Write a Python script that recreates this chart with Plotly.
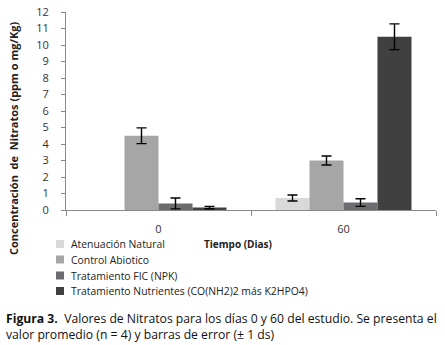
import plotly.graph_objects as go

categories = ["0", "60"]
series_names = ["Atenuación Natural", "Control Abiotico", "Tratamiento FIC (NPK)",
                "Tratamiento Nutrientes (CO(NH2)2 más K2HPO4)"]
values = {
    "Atenuación Natural": [None, 0.73],
    "Control Abiotico": [4.5, 3.0],
    "Tratamiento FIC (NPK)": [0.4, 0.45],
    "Tratamiento Nutrientes (CO(NH2)2 más K2HPO4)": [0.15, 10.5],
}
errors = {
    "Atenuación Natural": [None, 0.18],
    "Control Abiotico": [0.48, 0.27],
    "Tratamiento FIC (NPK)": [0.33, 0.23],
    "Tratamiento Nutrientes (CO(NH2)2 más K2HPO4)": [0.07, 0.78],
}
colors = ["#d9d9d9", "#a6a6a6", "#6b6c70", "#404040"]
y_ticks = list(range(0, 13))

W, H = 445, 345
L, R, T, B = 66, 9, 12, 135
PW, PH = W - L - R, H - T - B


def px(x):
    return (x - L) / PW


def py(y):
    return (H - B - y) / PH


fig = go.Figure()
for name, col in zip(series_names, colors):
    fig.add_trace(go.Bar(
        x=categories, y=values[name], name=name, showlegend=False,
        marker=dict(color=col, line=dict(width=0)),
        error_y=dict(type="data", array=errors[name], visible=True, color="black",
                     thickness=1.4, width=5),
    ))

fig.update_layout(
    width=W, height=H,
    margin=dict(l=L, r=R, t=T, b=B, autoexpand=False),
    paper_bgcolor="white", plot_bgcolor="white",
    font=dict(family="Open Sans", size=11, color="#333333"),
    barmode="group", bargap=0.265, bargroupgap=0,
    showlegend=False,
    xaxis=dict(type="category", showline=True, linecolor="#888888", linewidth=1,
               ticks="outside", tickson="boundaries", ticklen=5, tickcolor="#888888",
               tickfont=dict(size=11, color="#333333"), showgrid=False,
               ticklabelstandoff=9),
    yaxis=dict(range=[0, 12], tickvals=y_ticks, showline=True, linecolor="#888888",
               linewidth=1, ticks="outside", ticklen=4, tickcolor="#888888",
               showgrid=False, zeroline=False, ticklabelstandoff=10,
               tickfont=dict(size=11, color="#333333")),
)

# custom legend (keys + labels)
leg_y = [244, 259.5, 275.5, 291]
for name, col, yy in zip(series_names, colors, leg_y):
    fig.add_shape(type="rect", xref="paper", yref="paper",
                  x0=px(56), x1=px(64), y0=py(yy - 4), y1=py(yy + 4),
                  fillcolor=col, line=dict(width=0))
    fig.add_annotation(text=name, xref="paper", yref="paper", x=px(69), y=py(yy),
                       xanchor="left", yanchor="middle", showarrow=False,
                       font=dict(size=10.4, color="#222222"))

fig.add_annotation(text="<b>Concentración  de  Nitratos (ppm o mg/Kg)</b>",
                   xref="paper", yref="paper", x=px(13), y=py(139), textangle=-90,
                   showarrow=False, xanchor="center", yanchor="middle",
                   font=dict(size=11, color="#222222"))
fig.add_annotation(text="<b>Tiempo (Dias)</b>", xref="paper", yref="paper",
                   x=px(202), y=py(244), xanchor="left", yanchor="middle",
                   showarrow=False, font=dict(size=10, color="#222222"))
fig.add_annotation(
    text="<b>Figura 3.</b>  Valores de Nitratos para los días 0 y 60 del estudio. Se presenta el<br>valor promedio (n = 4) y barras de error (± 1 ds)",
    xref="paper", yref="paper", x=px(4), y=py(308), xanchor="left", yanchor="top",
    align="left", showarrow=False, font=dict(size=12.2, color="#111111"))

fig.write_html("out.html", config={"displayModeBar": False},
               post_script="document.body.style.margin='0';")
